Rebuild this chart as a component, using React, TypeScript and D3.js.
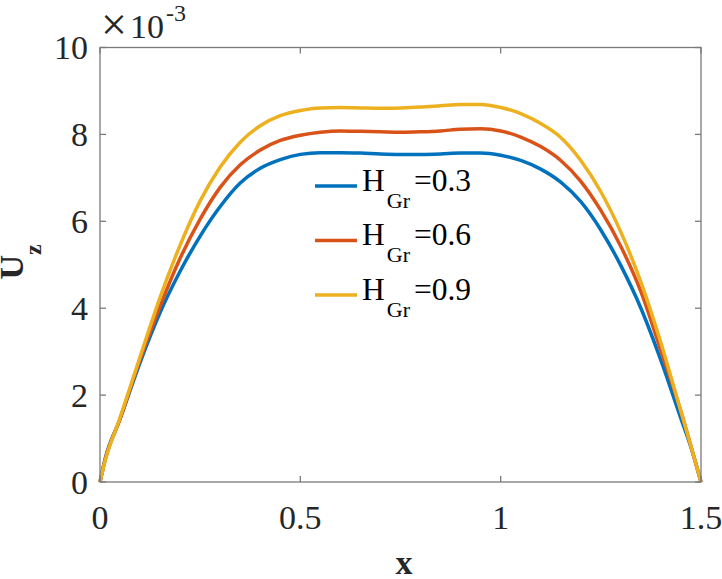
import * as d3 from "d3";
import React from "react";

// x positions shared by all three curves
const xValues = [0, 0.0125, 0.05, 0.1, 0.15, 0.2, 0.25, 0.3, 0.35, 0.4, 0.45, 0.5, 0.55, 0.6, 0.65, 0.7, 0.75, 0.8, 0.85, 0.9, 0.95, 1.0, 1.05, 1.1, 1.15, 1.2, 1.25, 1.3, 1.35, 1.4, 1.45, 1.475, 1.5];

// U_z values (x 1e-3)
const uGr03 = [0, 0.52, 1.45, 2.75, 3.9, 4.85, 5.66, 6.34, 6.88, 7.22, 7.42, 7.54, 7.58, 7.58, 7.57, 7.55, 7.54, 7.54, 7.55, 7.57, 7.57, 7.52, 7.4, 7.2, 6.9, 6.45, 5.8, 4.98, 4.0, 2.8, 1.46, 0.8, 0];
const uGr06 = [0, 0.5, 1.45, 2.82, 4.05, 5.15, 6.05, 6.78, 7.3, 7.64, 7.86, 7.98, 8.05, 8.08, 8.07, 8.06, 8.05, 8.06, 8.08, 8.12, 8.13, 8.08, 7.94, 7.72, 7.4, 6.92, 6.25, 5.42, 4.38, 3.02, 1.62, 0.82, 0];
const uGr09 = [0, 0.48, 1.48, 2.88, 4.25, 5.45, 6.47, 7.25, 7.82, 8.2, 8.43, 8.55, 8.61, 8.62, 8.61, 8.6, 8.61, 8.63, 8.66, 8.69, 8.69, 8.62, 8.48, 8.25, 7.93, 7.4, 6.68, 5.75, 4.6, 3.2, 1.62, 0.82, 0];

const seriesNames = ["0.3", "0.6", "0.9"];
const seriesColors = ["#0072BD", "#D95319", "#EDB120"];
const xTicks = [0, 0.5, 1, 1.5];
const yTicks = [0, 2, 4, 6, 8, 10];

const W = 722;
const H = 579;
const margin = { top: 47.5, right: 21, bottom: 97, left: 100 };

export default function App() {
  const x = d3.scaleLinear().domain([0, 1.5]).range([margin.left, W - margin.right]);
  const y = d3.scaleLinear().domain([0, 10]).range([H - margin.bottom, margin.top]);

  const series = [uGr03, uGr06, uGr09];
  const line = d3
    .line<number>()
    .x((d, i) => x(xValues[i]))
    .y(d => y(d))
    .curve(d3.curveMonotoneX);

  const axisColor = "#7a7a7a";
  const textColor = "#262626";
  const font = "'Liberation Serif', 'Times New Roman', serif";
  const x0 = x(0), x1 = x(1.5), y0 = y(0), y1 = y(10);
  const tickLen = 6;

  return (
    <svg width={W} height={H} style={{ position: "absolute", left: 0, top: 0 }} fontFamily={font}>
      <rect width={W} height={H} fill="#fff" />

      {/* curves */}
      {series.map((s, i) => (
        <path key={i} d={line(s) || ""} fill="none" stroke={seriesColors[i]} strokeWidth={3.5} strokeLinejoin="round" />
      ))}

      {/* box */}
      <rect x={x0} y={y1} width={x1 - x0} height={y0 - y1} fill="none" stroke={axisColor} strokeWidth={1.3} />

      {/* x ticks */}
      {xTicks.map((t, i) => (
        <g key={i}>
          <line x1={x(t)} x2={x(t)} y1={y0} y2={y0 - tickLen} stroke={axisColor} strokeWidth={1.3} />
          <line x1={x(t)} x2={x(t)} y1={y1} y2={y1 + tickLen} stroke={axisColor} strokeWidth={1.3} />
          <text x={x(t)} y={y0 + 47} fontSize={34} textAnchor="middle" fill={textColor}>
            {t}
          </text>
        </g>
      ))}

      {/* y ticks */}
      {yTicks.map((t, i) => (
        <g key={i}>
          <line x1={x0} x2={x0 + tickLen} y1={y(t)} y2={y(t)} stroke={axisColor} strokeWidth={1.3} />
          <line x1={x1} x2={x1 - tickLen} y1={y(t)} y2={y(t)} stroke={axisColor} strokeWidth={1.3} />
          <text x={88} y={y(t)} dy="0.35em" fontSize={34} textAnchor="end" fill={textColor}>
            {t}
          </text>
        </g>
      ))}

      {/* exponent */}
      <text x={101} y={40} fontSize={46} fill={textColor}>×</text>
      <text x={130} y={38} fontSize={34} fill={textColor}>10</text>
      <text x={166} y={21} fontSize={24} fill={textColor}>-3</text>

      {/* axis labels */}
      <text x={404} y={574} fontSize={34} fontWeight="bold" textAnchor="middle" fill={textColor}>
        x
      </text>
      <g transform="translate(23, 262) rotate(-90)">
        <text x={0} y={0} fontSize={34} fontWeight="bold" textAnchor="middle" fill={textColor}>
          U
          <tspan dy={18} fontSize={24}>z</tspan>
        </text>
      </g>

      {/* legend */}
      {seriesNames.map((n, i) => {
        const ly = 186 + i * 54.5;
        return (
          <g key={i}>
            <line x1={315} x2={357} y1={ly} y2={ly} stroke={seriesColors[i]} strokeWidth={3.5} />
            <text x={362} y={ly + 4.5} fontSize={31.5} fill="#000">
              H
              <tspan dx={2} dy={17} fontSize={22}>Gr</tspan>
              <tspan dx={4} dy={-17} fontSize={31.5}>={n}</tspan>
            </text>
          </g>
        );
      })}
    </svg>
  );
}
